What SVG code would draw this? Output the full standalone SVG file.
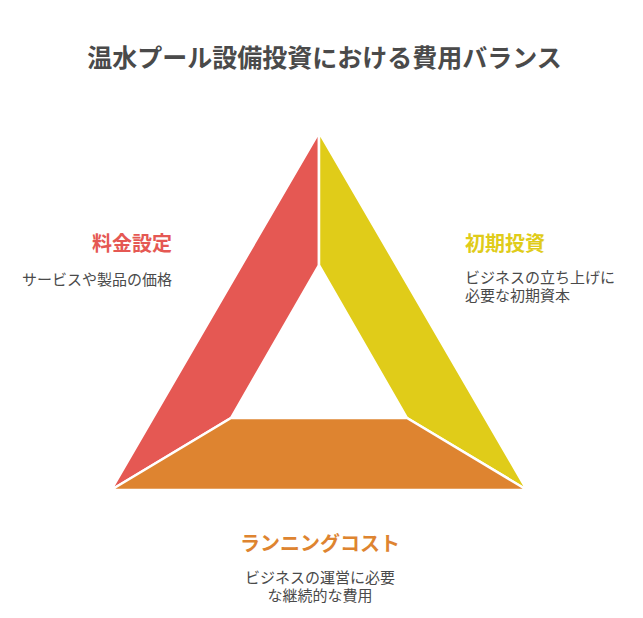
<svg xmlns="http://www.w3.org/2000/svg" width="643" height="618" viewBox="0 0 643 618">
<style>
text{font-family:"Noto Sans CJK JP","Noto Sans",sans-serif}
.title{font-size:25px;font-weight:700;fill:#4a4a4a}
.head{font-size:20px;font-weight:700}
.desc{font-size:15px;fill:#4a4a4a}
.seg{stroke:#ffffff;stroke-width:2.5;stroke-linejoin:miter}
</style>
<rect width="643" height="618" fill="#ffffff"/>
<text class="title" x="324.5" y="67" text-anchor="middle">温水プール設備投資における費用バランス</text>
<g id="connectors"></g>
<g id="pricing">
<polygon class="seg" fill="#E55853" points="319,132 319,265 231,418 111,490"/>
<text class="head" x="172" y="251" text-anchor="end" fill="#E55853">料金設定</text>
<text class="desc" x="172" y="285" text-anchor="end">サービスや製品の価格</text>
</g>
<g id="initial">
<polygon class="seg" fill="#E0CC19" points="319,132 527,490 407,418 319,265"/>
<text class="head" x="465" y="251" fill="#E0CC19">初期投資</text>
<text class="desc" x="465" y="283">ビジネスの立ち上げに</text>
<text class="desc" x="465" y="301">必要な初期資本</text>
</g>
<g id="running">
<polygon class="seg" fill="#DE8430" points="111,490 231,418 407,418 527,490"/>
<text class="head" x="320" y="551" text-anchor="middle" fill="#DE8430">ランニングコスト</text>
<text class="desc" x="320" y="583" text-anchor="middle">ビジネスの運営に必要</text>
<text class="desc" x="320" y="601" text-anchor="middle">な継続的な費用</text>
</g>
</svg>
